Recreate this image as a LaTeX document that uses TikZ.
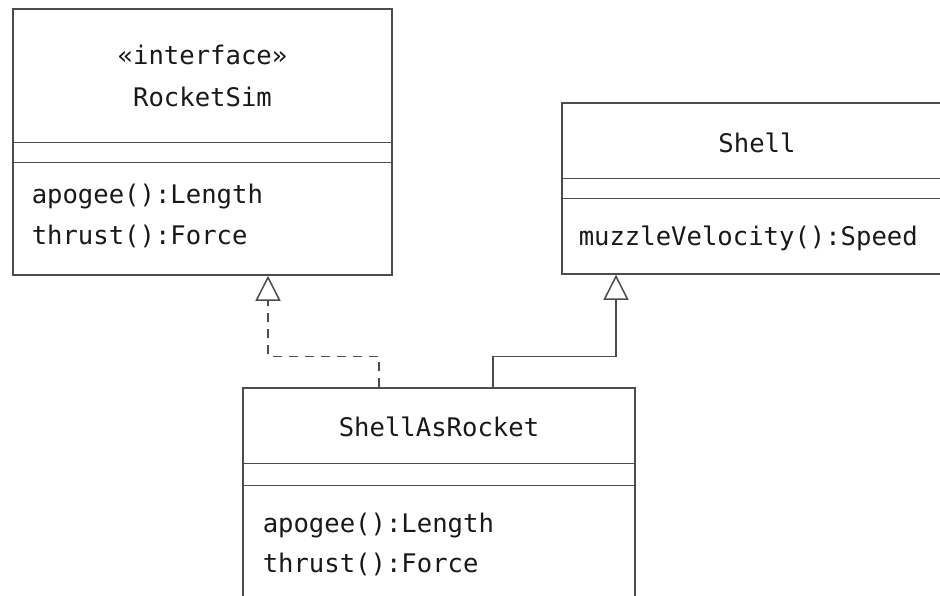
\documentclass[tikz,border=0pt]{standalone}
\usepackage{fontspec}
\setmonofont{DejaVu Sans Mono}
\usetikzlibrary{arrows.meta}

\begin{document}
\begin{tikzpicture}[line width=1.5pt, line join=miter, x=1pt, y=-1pt,
    >={Triangle[open,length=25pt,width=25pt,line width=1.5pt]},
    classbox/.style={draw=black!70, minimum width=#1, inner sep=0pt},
    divider/.style={draw=black!70},
    label/.style={font=\ttfamily\fontsize{25.6}{30}\selectfont, text=black!90, inner sep=0pt},
    realize/.style={draw=black!70, dash pattern=on 9pt off 7pt}]
  \clip (0,0) rectangle (940,595);
  % Class boxes (outline only, compartments drawn below).
  \node[classbox=379pt, minimum height=266pt] (rocketsim) at (202.5,142) {};
  \node[classbox=390pt, minimum height=171pt] (shell) at (757,188.5) {};
  \node[classbox=392pt, minimum height=240pt] (srk) at (439,508) {};
  % Compartment dividers.
  \draw[divider] ([yshift=-134pt]rocketsim.north west) -- ([yshift=-134pt]rocketsim.north east);
  \draw[divider] ([yshift=-154pt]rocketsim.north west) -- ([yshift=-154pt]rocketsim.north east);
  \draw[divider] ([yshift=-76pt]shell.north west) -- ([yshift=-76pt]shell.north east);
  \draw[divider] ([yshift=-96pt]shell.north west) -- ([yshift=-96pt]shell.north east);
  \draw[divider] ([yshift=-76pt]srk.north west) -- ([yshift=-76pt]srk.north east);
  \draw[divider] ([yshift=-98pt]srk.north west) -- ([yshift=-98pt]srk.north east);
  % Names and operations.
  \node[label, anchor=base] (rsstereo) at (202.5,64) {«interface»};
  \node[label, anchor=base] (rsname) at (202.5,106) {RocketSim};
  \node[label, anchor=base west] (rsop1) at (31,203) {apogee():Length};
  \node[label, anchor=base west] (rsop2) at (31,244) {thrust():Force};
  \node[label, anchor=base] (shname) at (757,152) {Shell};
  \node[label, anchor=base west] (shop1) at (578,245) {muzzleVelocity():Speed};
  \node[label, anchor=base] (srkname) at (439,436) {ShellAsRocket};
  \node[label, anchor=base west] (srkop1) at (262,532) {apogee():Length};
  \node[label, anchor=base west] (srkop2) at (262,572) {thrust():Force};
  % Realization and generalization connectors.
  \coordinate (srkL) at ([xshift=-60pt]srk.north);
  \coordinate (srkR) at ([xshift=54pt]srk.north);
  \coordinate (rsB) at ([xshift=65.5pt]rocketsim.south);
  \coordinate (shB) at ([xshift=-141pt]shell.south);
  \draw[realize, ->] (srkL) -- ++(0,-31) -| (rsB);
  \draw[black!70, ->] (srkR) -- ++(0,-31) -| (shB);
\end{tikzpicture}
\end{document}
